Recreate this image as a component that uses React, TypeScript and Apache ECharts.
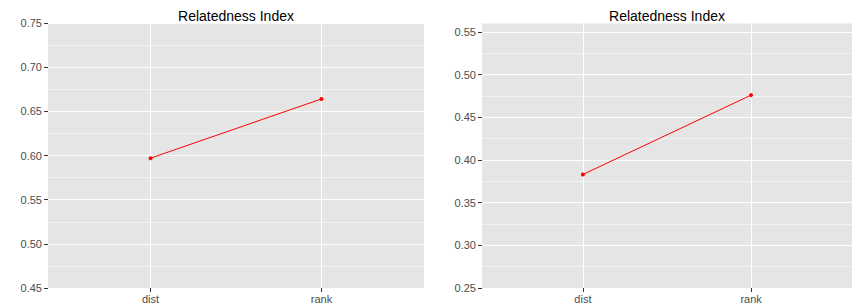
import React, { useEffect, useRef } from "react";
import * as echarts from "echarts";

const categories = ["dist", "rank"];
const leftValues = [0.597, 0.664];
const rightValues = [0.383, 0.476];
const leftTicks = [0.45, 0.5, 0.55, 0.6, 0.65, 0.7, 0.75];
const rightTicks = [0.25, 0.3, 0.35, 0.4, 0.45, 0.5, 0.55];
const titleText = "Relatedness Index";

const FONT = "'Liberation Sans', Arial, sans-serif";

export default function App() {
  const ref = useRef<HTMLDivElement>(null);
  useEffect(() => {
    document.body.style.margin = "0";
    const chart = echarts.init(ref.current!, null, { renderer: "svg" });
    const panels = [
      { left: 48, width: 376, min: 0.45, max: 0.75, ticks: leftTicks, values: leftValues },
      { left: 482, width: 370, min: 0.25, max: 0.5605, ticks: rightTicks, values: rightValues },
    ];
    const top = 23;
    const height = 265;
    const grid: any[] = [];
    const xAxis: any[] = [];
    const yAxis: any[] = [];
    const series: any[] = [];
    const graphic: any[] = [];
    panels.forEach((p, gi) => {
      grid.push({
        left: p.left,
        top,
        width: p.width,
        height,
        show: true,
        backgroundColor: "#e5e5e5",
        borderWidth: 0,
      });
      xAxis.push({
        type: "value",
        gridIndex: gi,
        min: 0.4,
        max: 2.6,
        axisLine: { show: false },
        axisTick: {
          show: true,
          customValues: categories.map((_, i) => i + 1),
          length: 4,
          lineStyle: { color: "#333333", width: 1 },
        },
        axisLabel: {
          customValues: categories.map((_, i) => i + 1),
          formatter: (v: number) => categories[Math.round(v) - 1] ?? "",
          color: "#4d4d4d",
          fontSize: 11,
          fontFamily: FONT,
          margin: 5,
        },
        splitLine: { show: true, lineStyle: { color: "#ffffff", width: 1 } },
      });
      yAxis.push({
        type: "value",
        gridIndex: gi,
        min: p.min,
        max: p.max,
        interval: 0.025,
        position: "left",
        axisLine: { show: false },
        axisTick: { show: false },
        axisLabel: { show: false },
        splitLine: { show: true, lineStyle: { color: ["#ffffff", "#f2f2f2"], width: 1 } },
      });
      yAxis.push({
        type: "value",
        gridIndex: gi,
        min: p.min,
        max: p.max,
        position: "left",
        axisLine: { show: false },
        axisTick: {
          show: true,
          customValues: p.ticks,
          length: 4,
          lineStyle: { color: "#333333", width: 1 },
        },
        axisLabel: {
          customValues: p.ticks,
          formatter: (v: number) => v.toFixed(2),
          color: "#4d4d4d",
          fontSize: 11,
          fontFamily: FONT,
          margin: 6,
        },
        splitLine: { show: false },
      });
      series.push({
        type: "line",
        xAxisIndex: gi,
        yAxisIndex: gi * 2,
        data: p.values.map((v, i) => [i + 1, v]),
        symbol: "circle",
        symbolSize: 4,
        showSymbol: true,
        itemStyle: { color: "#ff0000" },
        lineStyle: { color: "#ff0000", width: 1 },
        z: 3,
      });
      graphic.push({
        type: "text",
        x: p.left + p.width / 2,
        y: 16,
        style: {
          text: titleText,
          textAlign: "center",
          textVerticalAlign: "middle",
          fill: "#000000",
          font: `14px ${FONT}`,
        },
      });
    });
    chart.setOption({
      animation: false,
      grid,
      xAxis,
      yAxis,
      series,
      graphic,
    });
    return () => chart.dispose();
  }, []);
  return <div ref={ref} style={{ width: 852, height: 305 }} />;
}
